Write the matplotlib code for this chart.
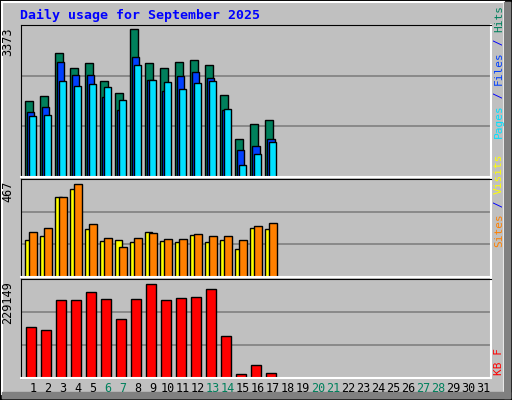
import numpy as np
import matplotlib.pyplot as plt
from matplotlib.patches import Rectangle

days = list(range(1, 19))
hits = [1725, 1839, 2824, 2480, 2595, 2183, 1908, 3373, 2595, 2480, 2618, 2663, 2549, 1862, 855, 1198, 1290, 0]
files = [1473, 1603, 2618, 2320, 2320, 1816, 1519, 2732, 2205, 1954, 2297, 2389, 2251, 1519, 626, 717, 855, 0]
pages = [1381, 1404, 2183, 2068, 2114, 2045, 1748, 2549, 2205, 2160, 2000, 2137, 2183, 1542, 282, 534, 809, 0]
visits = [188, 208, 401, 442, 239, 183, 188, 178, 228, 183, 178, 213, 178, 188, 142, 244, 239, 0]
sites = [228, 244, 401, 467, 264, 198, 152, 198, 223, 193, 193, 218, 208, 208, 188, 254, 269, 0]
kbytes = [123391, 118355, 191380, 191380, 209000, 193900, 143540, 193900, 229149, 191380,
          196420, 198940, 216570, 103250, 10073, 32737, 12590, 0]
weekend = [6, 7, 13, 14, 20, 21, 27, 28]

BG = '#C0C0C0'
W, H = 512, 400
fig = plt.figure(figsize=(W / 100, H / 100), dpi=100, facecolor=BG)
mono = 'DejaVu Sans Mono'

# bevelled outer border
fig.patches.append(Rectangle((0, 0), 1, 1, transform=fig.transFigure, fill=False,
                             edgecolor='black', lw=2))
fig.patches.append(Rectangle((2 / W, 6 / H), (W - 10) / W, (H - 8) / H, transform=fig.transFigure,
                             fill=False, edgecolor='white', lw=1.5))
fig.patches.append(Rectangle((W - 8) / W * np.array([1, 0]) + [0, 2 / H], 6 / W, (H - 4) / H,
                             transform=fig.transFigure, color='#808080'))
fig.patches.append(Rectangle((2 / W, 2 / H), (W - 4) / W, 6 / H,
                             transform=fig.transFigure, color='#808080'))


def panel(top, bottom):
    ax = fig.add_axes([20.5 / W, 1 - bottom / H, (491 - 20.5) / W, (bottom - top) / H])
    ax.set_facecolor(BG)
    ax.set_xlim(0.17, 31.53)
    ax.set_xticks([])
    ax.set_yticks([])
    for s in ['top', 'left']:
        ax.spines[s].set_color('black')
    for s in ['bottom', 'right']:
        ax.spines[s].set_color('white')
        ax.spines[s].set_linewidth(1.5)
    return ax


x = np.array(days)
kw = dict(align='edge', edgecolor='black', linewidth=1)

# top: hits / files / pages
ax1 = panel(25, 177)
ymax1 = 3465
ax1.set_ylim(0, ymax1)
for g in (ymax1 / 3, 2 * ymax1 / 3):
    ax1.axhline(g, color='#808080', lw=1.2, zorder=0)
ax1.bar(x - 0.53, hits, 0.5, color='#00805C', **kw)
ax1.bar(x - 0.40, files, 0.5, color='#0040FF', **kw)
ax1.bar(x - 0.27, pages, 0.5, color='#00E0FF', **kw)

# middle: visits / sites
ax2 = panel(179, 277)
ymax2 = 492
ax2.set_ylim(0, ymax2)
for g in (ymax2 / 3, 2 * ymax2 / 3):
    ax2.axhline(g, color='#808080', lw=1.2, zorder=0)
ax2.bar(x - 0.53, visits, 0.45, color='#FFFF00', **kw)
ax2.bar(x - 0.25, sites, 0.5, color='#FF8000', **kw)

# bottom: kbytes
ax3 = panel(279, 378)
ymax3 = 241740
ax3.set_ylim(0, ymax3)
for g in (ymax3 / 3, 2 * ymax3 / 3):
    ax3.axhline(g, color='#808080', lw=1.2, zorder=0)
ax3.bar(x - 0.47, kbytes, 0.67, color='#FF0000', **kw)

# max value labels
for ax, v in ((ax1, max(hits)), (ax2, max(sites)), (ax3, max(kbytes))):
    fig.text(8 / W, ax.get_position().y1 - 2 / H, str(v), rotation=90, ha='center', va='top',
             family=mono, fontsize=8.5, color='black')

# day labels
for d in range(1, 32):
    fig.text((20.5 + (d - 0.17) * 15) / W, 1 - 389 / H, str(d), ha='center', va='center',
             family=mono, fontsize=8.5, color='#00805C' if d in weekend else 'black')

fig.text(20 / W, 1 - 15 / H, 'Daily usage for September 2025', ha='left', va='center',
         family=mono, fontsize=9.5, fontweight='bold', color='#0000FF')


def side_label(parts, y_bottom):
    y = y_bottom
    for txt, col in parts:
        t = fig.text(499 / W, y / H, txt, rotation=90, ha='center', va='bottom',
                     family=mono, fontsize=8, color=col)
        y += len(txt) * 6.6


side_label([('Pages', '#00E0FF'), (' / ', '#0000FF'), ('Files', '#0040FF'),
            (' / ', '#0000FF'), ('Hits', '#00805C')], H - 178 + 40)
side_label([('Sites', '#FF8000'), (' / ', '#0000FF'), ('Visits', '#FFFF00')], H - 277 + 30)
side_label([('KB F', '#FF0000')], H - 375)

fig.savefig('out.png', dpi=100, facecolor=BG)
